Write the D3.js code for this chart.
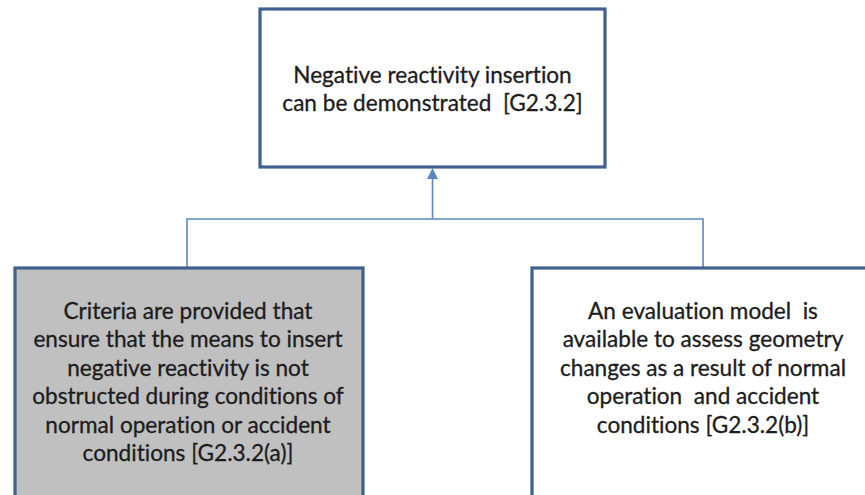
<!DOCTYPE html>
<html>
<head>
<meta charset="utf-8">
<script src="https://cdn.jsdelivr.net/npm/d3@7"></script>
<style>
  html, body { margin: 0; padding: 0; background: #fff; }
  svg { display: block; }
</style>
</head>
<body>
<svg id="tree"></svg>
<script>
// node texts (one entry per line)
const goalLines = ['Negative reactivity insertion', 'can be demonstrated  [G2.3.2]'];
const leftLines = [
  'Criteria are provided that',
  'ensure that the means to insert',
  'negative reactivity is not',
  'obstructed during conditions of',
  'normal operation or accident',
  'conditions [G2.3.2(a)]'
];
const rightLines = [
  'An evaluation model  is',
  'available to assess geometry',
  'changes as a result of normal',
  'operation  and accident',
  'conditions [G2.3.2(b)]'
];
const childFills = ['#c0c0c0', '#ffffff'];

const width = 865, height = 495;
const boxStroke = '#41618d';
const linkColor = '#5b87c0';
const lineH = 28.5;

const svg = d3.select('#tree').attr('width', width).attr('height', height);

const root = { lines: goalLines, fill: '#fff', x: 260, y: 9, w: 345, h: 158, ty: 75 };
const kids = [
  { lines: leftLines, fill: childFills[0], x: 15, y: 268, w: 348, h: 260, ty: 311, cx: 188, lx: 187 },
  { lines: rightLines, fill: childFills[1], x: 532, y: 268, w: 345, h: 260, ty: 311, cx: 703, lx: 703 }
];

const rootCx = root.x + root.w / 2;
const busY = 219;

// connectors
const link = svg.append('g')
  .attr('fill', 'none')
  .attr('stroke', linkColor)
  .attr('stroke-width', 1.6);

link.append('path')
  .attr('d', d3.line()([[kids[0].lx, kids[0].y], [kids[0].lx, busY], [kids[1].lx, busY], [kids[1].lx, kids[1].y]]));
link.append('path')
  .attr('d', d3.line()([[rootCx, busY], [rootCx, root.y + root.h + 10]]));

svg.append('path')
  .attr('fill', linkColor)
  .attr('d', d3.line()([[rootCx, root.y + root.h + 1], [rootCx - 5.5, root.y + root.h + 12], [rootCx + 5.5, root.y + root.h + 12]]) + 'Z');

// boxes
function drawBox(node, cx) {
  const g = svg.append('g');
  g.append('rect')
    .attr('x', node.x).attr('y', node.y)
    .attr('width', node.w).attr('height', node.h)
    .attr('fill', node.fill)
    .attr('stroke', boxStroke)
    .attr('stroke-width', 3.2);
  g.selectAll('text')
    .data(node.lines)
    .join('text')
    .attr('x', cx)
    .attr('y', (d, i) => node.ty + i * lineH)
    .attr('dy', '0.35em')
    .attr('text-anchor', 'middle')
    .attr('font-family', 'Lato, "Open Sans", sans-serif')
    .attr('font-size', 22.6)
    .attr('fill', '#1c1c1c')
    .attr('stroke', '#1c1c1c')
    .attr('stroke-width', 0.3)
    .style('white-space', 'pre')
    .style('font-variant-ligatures', 'none')
    .text((d) => d);
}

drawBox(root, rootCx);
kids.forEach((k) => drawBox(k, k.cx));
</script>
</body>
</html>
